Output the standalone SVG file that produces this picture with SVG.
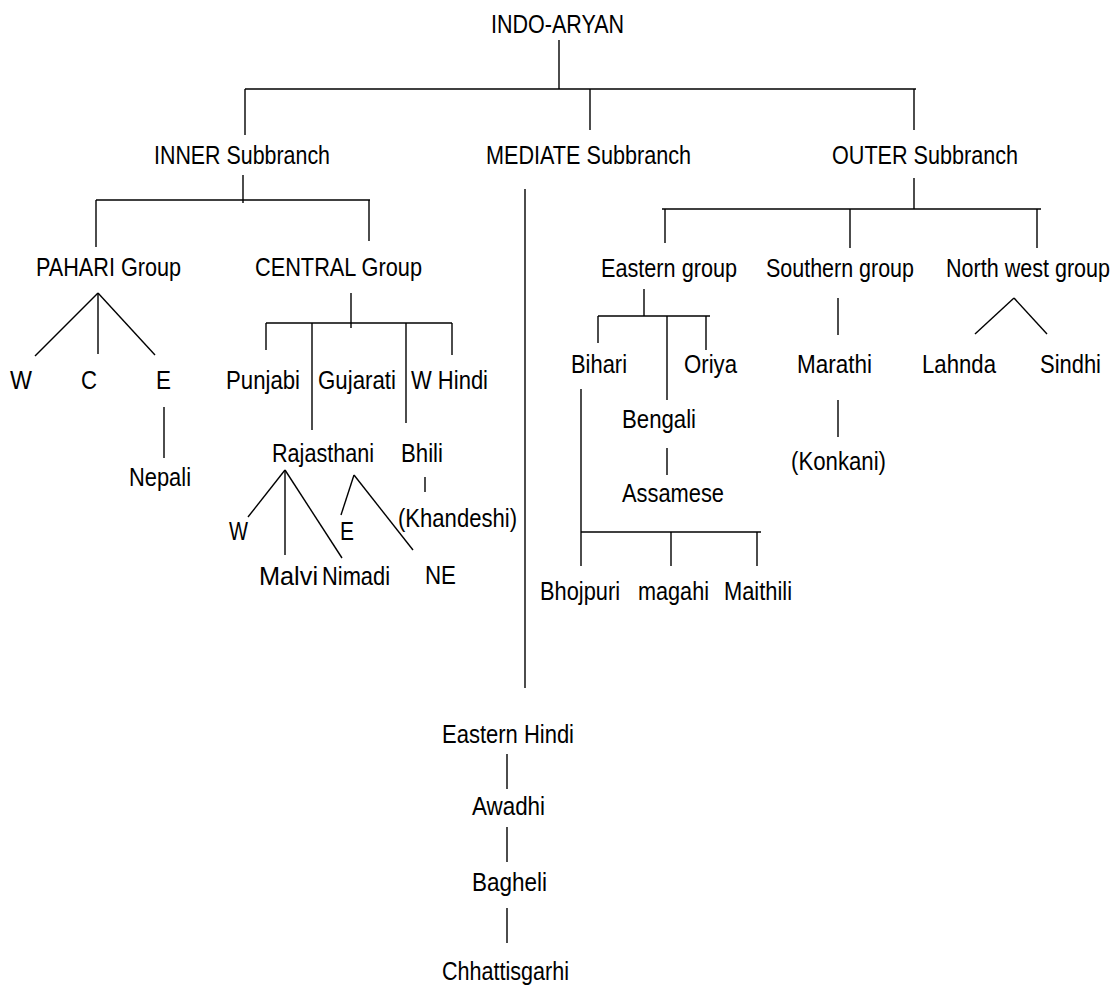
<svg xmlns="http://www.w3.org/2000/svg" width="1119" height="985" viewBox="0 0 1119 985">
  <style>
    .bg { fill: #ffffff; }
    text { font-family: "Liberation Sans Narrow", "Liberation Sans", Arial, sans-serif; font-size: 25px; fill: #000000; }
    .links line, .links polyline, .links path { stroke: #000000; stroke-width: 1.4; fill: none; stroke-linecap: butt; }
  </style>
  <rect class="bg" x="0" y="0" width="1119" height="985"/>

  <!-- connectors -->
  <g class="links" id="connectors">
    <!-- root -->
    <line x1="559" y1="40" x2="559" y2="89"/>
    <line x1="245" y1="89" x2="916" y2="89"/>
    <line x1="245" y1="89" x2="245" y2="135"/>
    <line x1="590" y1="89" x2="590" y2="130"/>
    <line x1="914" y1="89" x2="914" y2="130"/>

    <!-- inner subbranch -->
    <line x1="243" y1="175" x2="243" y2="203"/>
    <line x1="96" y1="200" x2="370" y2="200"/>
    <line x1="96" y1="200" x2="96" y2="247"/>
    <line x1="369" y1="200" x2="369" y2="241"/>

    <!-- pahari group -->
    <line x1="98" y1="293" x2="35" y2="356"/>
    <line x1="98" y1="293" x2="98" y2="354"/>
    <line x1="98" y1="293" x2="155" y2="355"/>
    <line x1="164" y1="407" x2="164" y2="458"/>

    <!-- central group -->
    <line x1="351" y1="293" x2="351" y2="328"/>
    <line x1="266" y1="323" x2="452" y2="323"/>
    <line x1="266" y1="323" x2="266" y2="350"/>
    <line x1="312" y1="323" x2="312" y2="430"/>
    <line x1="406" y1="323" x2="406" y2="423"/>
    <line x1="452" y1="323" x2="452" y2="355"/>
    <line x1="425" y1="477" x2="425" y2="492"/>

    <!-- rajasthani -->
    <line x1="285" y1="470" x2="248" y2="517"/>
    <line x1="285" y1="470" x2="285" y2="555"/>
    <line x1="285" y1="470" x2="342" y2="558"/>
    <line x1="354" y1="475" x2="341" y2="515"/>
    <line x1="354" y1="475" x2="413" y2="550"/>

    <!-- mediate subbranch -->
    <line x1="525" y1="189" x2="525" y2="688"/>
    <line x1="507" y1="754" x2="507" y2="789"/>
    <line x1="507" y1="827" x2="507" y2="862"/>
    <line x1="507" y1="908" x2="507" y2="943"/>

    <!-- outer subbranch -->
    <line x1="914" y1="178" x2="914" y2="209"/>
    <line x1="662" y1="209" x2="1041" y2="209"/>
    <line x1="665" y1="209" x2="665" y2="243"/>
    <line x1="850" y1="209" x2="850" y2="248"/>
    <line x1="1037" y1="209" x2="1037" y2="248"/>

    <!-- eastern group -->
    <line x1="644" y1="289" x2="644" y2="316"/>
    <line x1="598" y1="316" x2="710" y2="316"/>
    <line x1="598" y1="316" x2="598" y2="343"/>
    <line x1="667" y1="316" x2="667" y2="400"/>
    <line x1="706" y1="316" x2="706" y2="350"/>
    <line x1="667" y1="448" x2="667" y2="475"/>

    <!-- bihari -->
    <line x1="581" y1="389" x2="581" y2="566"/>
    <line x1="581" y1="532" x2="761" y2="532"/>
    <line x1="671" y1="532" x2="671" y2="566"/>
    <line x1="757" y1="532" x2="757" y2="566"/>

    <!-- southern group -->
    <line x1="838" y1="298" x2="838" y2="335"/>
    <line x1="838" y1="400" x2="838" y2="437"/>

    <!-- north west group -->
    <line x1="1014" y1="298" x2="975" y2="334"/>
    <line x1="1014" y1="298" x2="1047" y2="334"/>
  </g>

  <!-- top level -->
  <g id="indo-aryan"><text x="491" y="33" textLength="133" lengthAdjust="spacingAndGlyphs">INDO-ARYAN</text></g>

  <!-- subbranches -->
  <g id="inner"><text x="154" y="164" textLength="176" lengthAdjust="spacingAndGlyphs">INNER Subbranch</text></g>
  <g id="mediate"><text x="486" y="164" textLength="205" lengthAdjust="spacingAndGlyphs">MEDIATE Subbranch</text></g>
  <g id="outer"><text x="832" y="164" textLength="186" lengthAdjust="spacingAndGlyphs">OUTER Subbranch</text></g>

  <!-- groups -->
  <g id="pahari"><text x="36" y="276" textLength="145" lengthAdjust="spacingAndGlyphs">PAHARI Group</text></g>
  <g id="central"><text x="255" y="276" textLength="167" lengthAdjust="spacingAndGlyphs">CENTRAL Group</text></g>
  <g id="eastern"><text x="601" y="277" textLength="136" lengthAdjust="spacingAndGlyphs">Eastern group</text></g>
  <g id="southern"><text x="766" y="277" textLength="148" lengthAdjust="spacingAndGlyphs">Southern group</text></g>
  <g id="northwest"><text x="946" y="277" textLength="164" lengthAdjust="spacingAndGlyphs">North west group</text></g>

  <!-- pahari members -->
  <g id="pahari-w"><text x="10" y="389" textLength="22" lengthAdjust="spacingAndGlyphs">W</text></g>
  <g id="pahari-c"><text x="81" y="389" textLength="16" lengthAdjust="spacingAndGlyphs">C</text></g>
  <g id="pahari-e"><text x="156" y="389" textLength="15" lengthAdjust="spacingAndGlyphs">E</text></g>
  <g id="nepali"><text x="129" y="486" textLength="62" lengthAdjust="spacingAndGlyphs">Nepali</text></g>

  <!-- central members -->
  <g id="punjabi"><text x="226" y="389" textLength="74" lengthAdjust="spacingAndGlyphs">Punjabi</text></g>
  <g id="gujarati"><text x="318" y="389" textLength="78" lengthAdjust="spacingAndGlyphs">Gujarati</text></g>
  <g id="w-hindi"><text x="411" y="389" textLength="77" lengthAdjust="spacingAndGlyphs">W Hindi</text></g>
  <g id="rajasthani"><text x="272" y="462" textLength="102" lengthAdjust="spacingAndGlyphs">Rajasthani</text></g>
  <g id="bhili"><text x="401" y="462" textLength="42" lengthAdjust="spacingAndGlyphs">Bhili</text></g>
  <g id="khandeshi"><text x="398" y="527" textLength="119" lengthAdjust="spacingAndGlyphs">(Khandeshi)</text></g>

  <!-- rajasthani members -->
  <g id="raj-w"><text x="229" y="540" textLength="19" lengthAdjust="spacingAndGlyphs">W</text></g>
  <g id="raj-e"><text x="340" y="540" textLength="14" lengthAdjust="spacingAndGlyphs">E</text></g>
  <g id="malvi"><text x="259" y="585" textLength="59" lengthAdjust="spacingAndGlyphs">Malvi</text></g>
  <g id="nimadi"><text x="322" y="585" textLength="68" lengthAdjust="spacingAndGlyphs">Nimadi</text></g>
  <g id="raj-ne"><text x="425" y="584" textLength="31" lengthAdjust="spacingAndGlyphs">NE</text></g>

  <!-- eastern members -->
  <g id="bihari"><text x="571" y="373" textLength="56" lengthAdjust="spacingAndGlyphs">Bihari</text></g>
  <g id="oriya"><text x="684" y="373" textLength="53" lengthAdjust="spacingAndGlyphs">Oriya</text></g>
  <g id="bengali"><text x="622" y="428" textLength="74" lengthAdjust="spacingAndGlyphs">Bengali</text></g>
  <g id="assamese"><text x="622" y="502" textLength="102" lengthAdjust="spacingAndGlyphs">Assamese</text></g>
  <g id="bhojpuri"><text x="540" y="600" textLength="80" lengthAdjust="spacingAndGlyphs">Bhojpuri</text></g>
  <g id="magahi"><text x="638" y="600" textLength="71" lengthAdjust="spacingAndGlyphs">magahi</text></g>
  <g id="maithili"><text x="724" y="600" textLength="68" lengthAdjust="spacingAndGlyphs">Maithili</text></g>

  <!-- southern members -->
  <g id="marathi"><text x="797" y="373" textLength="75" lengthAdjust="spacingAndGlyphs">Marathi</text></g>
  <g id="konkani"><text x="791" y="470" textLength="95" lengthAdjust="spacingAndGlyphs">(Konkani)</text></g>

  <!-- north west members -->
  <g id="lahnda"><text x="922" y="373" textLength="74" lengthAdjust="spacingAndGlyphs">Lahnda</text></g>
  <g id="sindhi"><text x="1040" y="373" textLength="61" lengthAdjust="spacingAndGlyphs">Sindhi</text></g>

  <!-- mediate members -->
  <g id="eastern-hindi"><text x="442" y="743" textLength="132" lengthAdjust="spacingAndGlyphs">Eastern Hindi</text></g>
  <g id="awadhi"><text x="472" y="815" textLength="73" lengthAdjust="spacingAndGlyphs">Awadhi</text></g>
  <g id="bagheli"><text x="472" y="891" textLength="75" lengthAdjust="spacingAndGlyphs">Bagheli</text></g>
  <g id="chhattisgarhi"><text x="442" y="980" textLength="127" lengthAdjust="spacingAndGlyphs">Chhattisgarhi</text></g>
</svg>
